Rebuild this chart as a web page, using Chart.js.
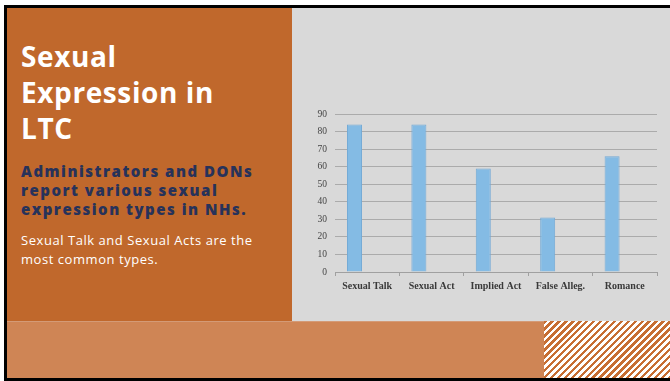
<!DOCTYPE html>
<html>
<head>
<meta charset="utf-8">
<script src="https://cdn.jsdelivr.net/npm/chart.js@4/dist/chart.umd.min.js"></script>
<style>
  html, body { margin:0; padding:0; width:670px; height:381px; overflow:hidden; background:#fff; }
  #frame { position:absolute; left:4px; top:5px; width:666px; height:376px; background:#000; }
  #left { position:absolute; left:7px; top:8px; width:285px; height:313px; background:#C0682C; }
  #right { position:absolute; left:292px; top:8px; width:378px; height:313px; background:#D9D9D9; }
  #band { position:absolute; left:7px; top:321px; width:537px; height:57px; background:#CF8555; border-top:1px solid #D49A76; box-sizing:border-box; }
  #hatch { position:absolute; left:544px; top:321px; width:126px; height:57px;
    background: repeating-linear-gradient(135deg, #C76E33 0px, #C76E33 2.4px, #ffffff 2.4px, #ffffff 4.9px); }
  #title { position:absolute; left:21px; top:38px; font-family:"Open Sans", sans-serif; font-weight:700; font-size:28px; line-height:36px; letter-spacing:0.6px; color:#fff; }
  #sub { position:absolute; left:21px; top:162px; width:280px; font-family:"Open Sans", sans-serif; font-weight:800; font-size:15px; line-height:19px; letter-spacing:1.5px; color:#27325A; }
  #body { position:absolute; left:21px; top:231px; width:280px; font-family:"Open Sans", sans-serif; font-size:13px; line-height:19px; letter-spacing:0.55px; color:#fff; }
  #wrap { position:absolute; left:292px; top:100px; width:378px; height:200px; }
</style>
</head>
<body>
<div id="frame"></div>
<div id="left"></div>
<div id="right"></div>
<div id="band"></div>
<div id="hatch"></div>
<div id="title">Sexual<br>Expression in<br>LTC</div>
<div id="sub">Administrators and DONs<br>report various sexual<br>expression types in NHs.</div>
<div id="body">Sexual Talk and Sexual Acts are the<br>most common types.</div>
<div id="wrap"><canvas id="c" width="378" height="200"></canvas></div>
<script>
const categories = ["Sexual Talk", "Sexual Act", "Implied Act", "False Alleg.", "Romance"];
const seriesValues = [84, 84, 59, 31, 66];
const emptySeries = [];
const yTicks = [0, 10, 20, 30, 40, 50, 60, 70, 80, 90];

new Chart(document.getElementById('c'), {
  type: 'bar',
  data: {
    labels: categories,
    datasets: [
      { label: 'Series 1', data: seriesValues, backgroundColor: '#84BBE4', borderColor: '#74AAD6', borderWidth: 1,
        categoryPercentage: 0.79, barPercentage: 0.59 },
      { label: 'Series 2', data: emptySeries, backgroundColor: '#84BBE4',
        categoryPercentage: 0.79, barPercentage: 0.59 }
    ]
  },
  options: {
    responsive: false,
    animation: false,
    devicePixelRatio: 1,
    layout: { padding: { left: 0, right: 13, top: 14, bottom: 0 } },
    plugins: { legend: { display: false }, tooltip: { enabled: false } },
    scales: {
      x: {
        afterFit: s => { s.height = 28; },
        grid: { display: true, drawOnChartArea: false, offset: true, tickLength: 4, color: '#A0A0A0' },
        border: { display: true, color: '#A0A0A0', width: 1 },
        ticks: { color: '#3a3a3a', font: { family: 'Liberation Serif', size: 10, weight: 'bold' }, padding: 4, maxRotation: 0 }
      },
      y: {
        min: 0, max: 90,
        afterFit: s => { s.width = 43; },
        afterBuildTicks: s => { s.ticks = yTicks.map(v => ({ value: v })); },
        grid: { color: '#ABABAB', drawTicks: false },
        border: { display: false },
        ticks: { color: '#444', font: { family: 'Liberation Serif', size: 9.5 }, padding: 8 }
      }
    }
  }
});
</script>
</body>
</html>
